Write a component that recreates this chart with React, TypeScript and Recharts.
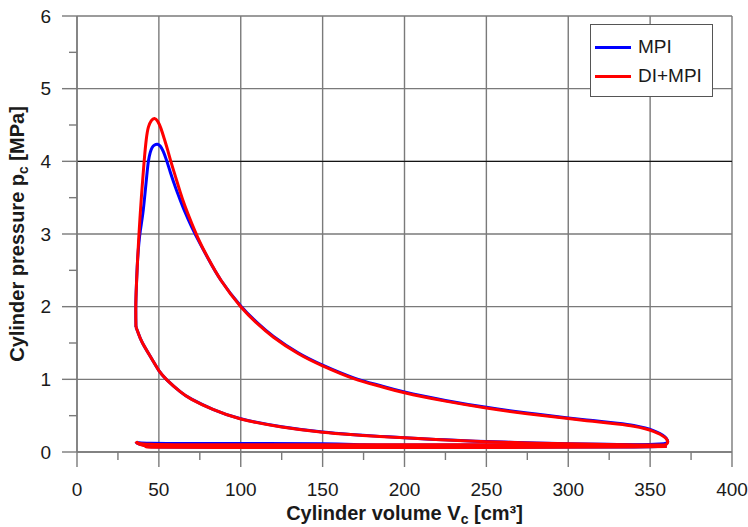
import React from 'react';
import { LineChart, Line, XAxis, YAxis, CartesianGrid, ReferenceLine, Legend } from 'recharts';

type Pt = [number, number];

// [cylinder volume cm³, cylinder pressure MPa] per stroke of the cycle

// MPI
const intakeMPI: Pt[] = [
  [36, 0.14], [38, 0.11], [42, 0.085], [50, 0.07], [100, 0.066], [150, 0.065],
  [200, 0.065], [250, 0.066], [300, 0.068], [340, 0.07], [360, 0.078],
];
const compressionMPI: Pt[] = [
  [330, 0.102], [300, 0.114], [275, 0.127], [250, 0.144], [225, 0.167],
  [200, 0.197], [185, 0.215], [167, 0.242], [150, 0.274], [125, 0.347], [100, 0.457],
  [83, 0.587], [70, 0.727], [63, 0.832], [55, 0.99], [50, 1.12], [45.7, 1.28],
  [40, 1.5], [37.5, 1.63], [36, 1.72],
];
const combustionMPI: Pt[] = [
  [35.9, 2.0], [36.3, 2.3], [36.9, 2.6], [37.7, 2.85], [38.7, 3.05], [40.2, 3.28],
  [41.5, 3.55], [42.6, 3.8], [43.6, 4.0], [44.7, 4.12], [45.9, 4.19], [47.4, 4.225],
  [49.1, 4.235], [50.8, 4.21], [52.6, 4.14], [54.6, 4.02], [57, 3.85], [60, 3.65],
  [63, 3.47], [66, 3.3], [70, 3.1], [75, 2.875], [80, 2.665], [88, 2.36], [100, 2.01],
];
const expansionMPI: Pt[] = [
  [110, 1.78], [120, 1.59], [135, 1.365], [150, 1.195], [169, 1.02], [185, 0.915],
  [200, 0.825], [225, 0.71], [250, 0.615], [275, 0.537], [300, 0.469], [315, 0.432],
  [330, 0.395], [340, 0.365], [347, 0.33], [352, 0.295], [356, 0.255], [359, 0.21],
  [360.5, 0.165], [360.5, 0.13], [358.5, 0.115],
];
const exhaustMPI: Pt[] = [
  [340, 0.1], [300, 0.096], [250, 0.096], [200, 0.097], [175, 0.1], [150, 0.112],
  [100, 0.118], [60, 0.118], [45, 0.12], [38, 0.127], [36, 0.14],
];

// DI+MPI
const intakeDI: Pt[] = [
  [36, 0.145], [38, 0.11], [42, 0.08], [50, 0.066], [100, 0.063], [150, 0.062],
  [200, 0.062], [250, 0.063], [300, 0.065], [340, 0.068], [360, 0.075],
];
const compressionDI: Pt[] = [
  [330, 0.1], [300, 0.112], [275, 0.125], [250, 0.142], [225, 0.165],
  [200, 0.195], [185, 0.213], [167, 0.24], [150, 0.272], [125, 0.345], [100, 0.455],
  [83, 0.585], [70, 0.725], [63, 0.83], [55, 0.99], [50, 1.12], [45.7, 1.28],
  [40, 1.5], [37.5, 1.63], [36, 1.72],
];
const combustionDI: Pt[] = [
  [35.9, 2.0], [36.3, 2.3], [36.9, 2.6], [37.6, 2.9], [38.4, 3.2], [39.3, 3.5],
  [40.3, 3.8], [41.2, 4.05], [42.3, 4.3], [43.6, 4.47], [45.4, 4.56], [47.3, 4.59],
  [49.3, 4.55], [51.3, 4.45], [53.3, 4.31], [55.3, 4.16], [57.3, 4.0], [60, 3.8],
  [63, 3.58], [66, 3.38], [70, 3.15], [75, 2.89], [80, 2.67], [88, 2.36], [100, 2.0],
];
const expansionDI: Pt[] = [
  [110, 1.77], [120, 1.58], [135, 1.355], [150, 1.185], [169, 1.01], [185, 0.905],
  [200, 0.815], [225, 0.7], [250, 0.605], [275, 0.527], [300, 0.46], [315, 0.422],
  [330, 0.385], [340, 0.355], [347, 0.32], [352, 0.285], [356, 0.245], [359, 0.2],
  [360.5, 0.16], [360.5, 0.12], [359, 0.095],
];
const exhaustDI: Pt[] = [
  [340, 0.098], [300, 0.1], [250, 0.1], [200, 0.1], [150, 0.1], [100, 0.1],
  [60, 0.1], [45, 0.105], [38, 0.118], [36, 0.145],
];

const xTicks = [0, 25, 50, 75, 100, 125, 150, 175, 200, 225, 250, 275, 300, 325, 350, 375, 400];
const yTicks = [0, 0.5, 1, 1.5, 2, 2.5, 3, 3.5, 4, 4.5, 5, 5.5, 6];
const xGrid = [0, 50, 100, 150, 200, 250, 300, 350, 400];
const yGrid = [0, 1, 2, 3, 4, 5, 6];

// each series is drawn stroke by stroke; the power stroke is combustion + expansion
const series = [
  {
    name: 'MPI',
    color: '#0000ff',
    strokes: [intakeMPI, compressionMPI, [...combustionMPI, ...expansionMPI], exhaustMPI],
  },
  {
    name: 'DI+MPI',
    color: '#ff0000',
    strokes: [intakeDI, compressionDI, [...combustionDI, ...expansionDI], exhaustDI],
  },
];

// join each stroke to the end of the previous one so the cycle stays closed
const strokeRows = (strokes: Pt[][]) =>
  strokes.map((s, i) => {
    const pts = i === 0 ? s : [strokes[i - 1][strokes[i - 1].length - 1], ...s];
    return pts.map(([v, p]) => ({ v, p }));
  });

const FONT = '"Liberation Sans", Arial, Helvetica, sans-serif';
const GRID = '#7a7a7a';
const TEXT = '#1a1a1a';
const MAJOR = 15;
const MINOR = 8;
const X_GAP = 16;
const Y_GAP = 11;
const TICK_FS = 19;

const XTick = (props: any) => {
  const { x, y, payload } = props;
  const axisY = y - MAJOR - X_GAP;
  const major = payload.value % 50 === 0;
  return (
    <g>
      <line x1={x} x2={x} y1={axisY} y2={axisY + (major ? MAJOR : MINOR)} stroke={GRID} strokeWidth={1.4} />
      {major && (
        <text x={x} y={y} dy="0.71em" textAnchor="middle" fontFamily={FONT} fontSize={TICK_FS} fill={TEXT}>
          {payload.value}
        </text>
      )}
    </g>
  );
};

const YTick = (props: any) => {
  const { x, y, payload } = props;
  const axisX = x + MAJOR + Y_GAP;
  const major = Number.isInteger(payload.value);
  return (
    <g>
      <line x1={axisX - (major ? MAJOR : MINOR)} x2={axisX} y1={y} y2={y} stroke={GRID} strokeWidth={1.4} />
      {major && (
        <text x={x} y={y} dy="0.355em" textAnchor="end" fontFamily={FONT} fontSize={TICK_FS} fill={TEXT}>
          {payload.value}
        </text>
      )}
    </g>
  );
};

const XTitle = (props: any) => {
  const vb = props.viewBox;
  const cx = vb.x + vb.width / 2;
  return (
    <text x={cx} y={vb.y + 68} textAnchor="middle" fontFamily={FONT} fontSize={20} fontWeight="bold" fill={TEXT}>
      Cylinder volume V
      <tspan fontSize={14} dy={4}>c</tspan>
      <tspan dy={-4}> [cm³]</tspan>
    </text>
  );
};

const YTitle = (props: any) => {
  const vb = props.viewBox;
  const cx = 24;
  const cy = vb.y + vb.height / 2;
  return (
    <text
      x={cx}
      y={cy}
      transform={`rotate(-90 ${cx} ${cy})`}
      textAnchor="middle"
      fontFamily={FONT}
      fontSize={20}
      fontWeight="bold"
      fill={TEXT}
    >
      Cylinder pressure p
      <tspan fontSize={14} dy={4}>c</tspan>
      <tspan dy={-4}> [MPa]</tspan>
    </text>
  );
};

const LegendBox = () => (
  <div
    style={{
      width: 121,
      height: 71,
      border: '1px solid #555',
      background: '#fff',
      fontFamily: FONT,
      fontSize: 19,
      color: TEXT,
      position: 'relative',
    }}
  >
    {series.map((s, i) => (
      <div key={s.name} style={{ position: 'absolute', left: 4, top: 10 + i * 29, height: 24, display: 'flex', alignItems: 'center' }}>
        <div style={{ width: 36, height: 3, background: s.color, marginRight: 7 }} />
        <span>{s.name}</span>
      </div>
    ))}
  </div>
);

export default function App() {
  return (
    <div style={{ position: 'absolute', left: 0, top: 0, width: 748, height: 527, background: '#fff' }}>
      <LineChart width={748} height={527} margin={{ top: 16, right: 16, bottom: 0, left: 0 }}>
        <CartesianGrid stroke={GRID} strokeWidth={1.4} horizontalValues={yGrid} verticalValues={xGrid} />
        <XAxis
          type="number"
          dataKey="v"
          domain={[0, 400]}
          ticks={xTicks}
          interval={0}
          height={75}
          tickSize={MAJOR}
          tickMargin={X_GAP}
          tickLine={false}
          axisLine={{ stroke: GRID, strokeWidth: 1.4 }}
          tick={XTick}
          label={{ content: XTitle }}
        />
        <YAxis
          type="number"
          dataKey="p"
          domain={[0, 6]}
          ticks={yTicks}
          interval={0}
          width={77}
          tickSize={MAJOR}
          tickMargin={Y_GAP}
          tickLine={false}
          axisLine={{ stroke: GRID, strokeWidth: 1.4 }}
          tick={YTick}
          label={{ content: YTitle }}
        />
        <ReferenceLine y={4} stroke="#000" strokeWidth={1} />
        {series.flatMap((s) =>
          strokeRows(s.strokes).map((rows, i) => (
            <Line
              key={`${s.name}-${i}`}
              name={s.name}
              data={rows}
              dataKey="p"
              type="natural"
              stroke={s.color}
              strokeWidth={3}
              dot={false}
              isAnimationActive={false}
            />
          ))
        )}
        <Legend
          layout="horizontal"
          verticalAlign="middle"
          align="center"
          content={LegendBox}
          wrapperStyle={{ position: 'absolute', left: 590, top: 24, width: 123, height: 73 }}
        />
      </LineChart>
    </div>
  );
}
